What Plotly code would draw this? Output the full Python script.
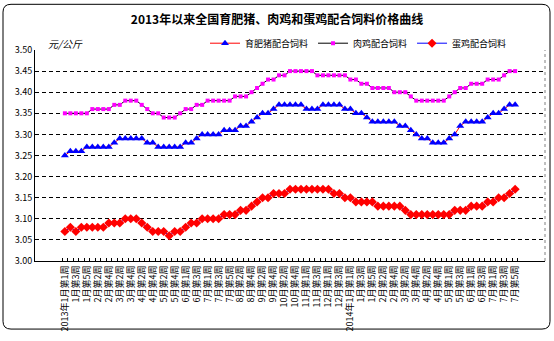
import plotly.graph_objects as go

# Weekly reporting calendar: number of reporting weeks in each month
weeks_2013 = [5, 4, 4, 4, 5, 4, 5, 4, 4, 5, 4, 4]
weeks_2014 = [5, 4, 4, 5, 4, 4, 5]

# Feed prices, yuan per kg, one value per reporting week
pig_feed = [
    3.25,
    3.26, 3.26, 3.26,
    3.27, 3.27, 3.27, 3.27, 3.27,
    3.28,
    3.29, 3.29, 3.29, 3.29, 3.29,
    3.28, 3.28,
    3.27, 3.27, 3.27, 3.27, 3.27,
    3.28, 3.28,
    3.29,
    3.30, 3.30, 3.30, 3.30,
    3.31, 3.31, 3.31,
    3.32, 3.32,
    3.33,
    3.34,
    3.35, 3.35,
    3.36,
    3.37, 3.37, 3.37, 3.37, 3.37,
    3.36, 3.36, 3.36,
    3.37, 3.37, 3.37, 3.37,
    3.36, 3.36,
    3.35, 3.35,
    3.34,
    3.33, 3.33, 3.33, 3.33, 3.33,
    3.32, 3.32,
    3.31,
    3.30,
    3.29, 3.29,
    3.28, 3.28, 3.28,
    3.29,
    3.30,
    3.32,
    3.33, 3.33, 3.33, 3.33,
    3.34,
    3.35, 3.35,
    3.36,
    3.37, 3.37,
]

broiler_feed = [
    3.35, 3.35, 3.35, 3.35, 3.35,
    3.36, 3.36, 3.36, 3.36,
    3.37, 3.37,
    3.38, 3.38, 3.38,
    3.37,
    3.36,
    3.35, 3.35,
    3.34, 3.34, 3.34,
    3.35,
    3.36, 3.36,
    3.37, 3.37,
    3.38, 3.38, 3.38, 3.38, 3.38,
    3.39, 3.39, 3.39,
    3.40,
    3.41,
    3.42,
    3.43, 3.43,
    3.44, 3.44,
    3.45, 3.45, 3.45, 3.45, 3.45,
    3.44, 3.44, 3.44, 3.44, 3.44, 3.44,
    3.43, 3.43,
    3.42, 3.42,
    3.41, 3.41, 3.41, 3.41,
    3.40, 3.40, 3.40,
    3.39,
    3.38, 3.38, 3.38, 3.38, 3.38, 3.38,
    3.39,
    3.40,
    3.41, 3.41,
    3.42, 3.42, 3.42,
    3.43, 3.43, 3.43,
    3.44,
    3.45, 3.45,
]

layer_feed = [
    3.07,
    3.08,
    3.07,
    3.08, 3.08, 3.08, 3.08, 3.08,
    3.09, 3.09, 3.09,
    3.10, 3.10, 3.10,
    3.09,
    3.08,
    3.07, 3.07, 3.07,
    3.06,
    3.07, 3.07,
    3.08,
    3.09, 3.09,
    3.10, 3.10, 3.10, 3.10,
    3.11, 3.11, 3.11,
    3.12, 3.12,
    3.13,
    3.14,
    3.15, 3.15,
    3.16, 3.16, 3.16,
    3.17, 3.17, 3.17, 3.17, 3.17, 3.17, 3.17, 3.17,
    3.16, 3.16,
    3.15, 3.15,
    3.14, 3.14, 3.14, 3.14,
    3.13, 3.13, 3.13, 3.13, 3.13,
    3.12,
    3.11, 3.11, 3.11, 3.11, 3.11, 3.11, 3.11, 3.11,
    3.12, 3.12, 3.12,
    3.13, 3.13, 3.13,
    3.14, 3.14,
    3.15, 3.15,
    3.16,
    3.17,
]

# Build week categories and their axis labels (every second week labelled)
categories = []
tick_text = []
for year, month_weeks in ((2013, weeks_2013), (2014, weeks_2014)):
    for month, n_weeks in enumerate(month_weeks, start=1):
        for week in range(1, n_weeks + 1):
            idx = len(categories)
            categories.append(f"{year}年{month}月第{week}周")
            if idx % 2:
                tick_text.append("")
            elif month == 1 and week == 1:
                tick_text.append(f"{year}年{month}月第{week}周")
            else:
                tick_text.append(f"{month}月第{week}周")

FONT = "Noto Sans CJK SC"
W, H = 554, 341
ML, MR, MT, MB = 35, 9, 50, 74
PW, PH = W - ML - MR, H - MT - MB


def px_x(x):
    return (x - ML) / PW


def px_y(y):
    return (H - MB - y) / PH


fig = go.Figure()
fig.add_trace(go.Scatter(
    x=categories, y=pig_feed, name="育肥猪配合饲料", mode="lines+markers",
    line=dict(color="#FF0000", width=1),
    marker=dict(symbol="triangle-up", size=7, color="#0000FF"),
))
fig.add_trace(go.Scatter(
    x=categories, y=broiler_feed, name="肉鸡配合饲料", mode="lines+markers",
    line=dict(color="#000000", width=1),
    marker=dict(symbol="square", size=4, color="#FF00FF"),
))
fig.add_trace(go.Scatter(
    x=categories, y=layer_feed, name="蛋鸡配合饲料", mode="lines+markers",
    line=dict(color="#0000FF", width=1),
    marker=dict(symbol="diamond", size=7, color="#FF0000"),
))

# Rounded outer frame of the chart
x0, x1, y0, y1, r = 3, 550, 3, 337, 8
frame = (
    f"M {px_x(x0 + r)},{px_y(y0)} L {px_x(x1 - r)},{px_y(y0)} "
    f"Q {px_x(x1)},{px_y(y0)} {px_x(x1)},{px_y(y0 + r)} "
    f"L {px_x(x1)},{px_y(y1 - r)} "
    f"Q {px_x(x1)},{px_y(y1)} {px_x(x1 - r)},{px_y(y1)} "
    f"L {px_x(x0 + r)},{px_y(y1)} "
    f"Q {px_x(x0)},{px_y(y1)} {px_x(x0)},{px_y(y1 - r)} "
    f"L {px_x(x0)},{px_y(y0 + r)} "
    f"Q {px_x(x0)},{px_y(y0)} {px_x(x0 + r)},{px_y(y0)} Z"
)

fig.update_layout(
    width=W, height=H,
    margin=dict(l=ML, r=MR, t=MT, b=MB),
    paper_bgcolor="white", plot_bgcolor="white",
    font=dict(family=FONT, size=9, color="black"),
    title=dict(
        text="<b>2013年以来全国育肥猪、肉鸡和蛋鸡配合饲料价格曲线</b>",
        x=0.5, xanchor="center", y=1 - 20 / H, yanchor="middle",
        font=dict(family=FONT, size=12, color="black"),
    ),
    showlegend=True,
    legend=dict(
        orientation="h", x=px_x(205), xanchor="left",
        y=px_y(43), yanchor="middle",
        font=dict(family=FONT, size=9, color="black"),
        itemwidth=30, bgcolor="rgba(0,0,0,0)",
    ),
    xaxis=dict(
        type="category",
        tickmode="array", tickvals=categories, ticktext=tick_text,
        tickangle=-90, tickson="boundaries",
        ticks="inside", ticklen=3, tickcolor="black",
        showline=True, linecolor="black", linewidth=1,
        showgrid=False, zeroline=False,
        tickfont=dict(family=FONT, size=9, color="black"),
    ),
    yaxis=dict(
        range=[3.0, 3.5], dtick=0.05, tick0=3.0, tickformat=".2f",
        showline=True, linecolor="black", linewidth=1,
        showgrid=True, gridcolor="black", gridwidth=1, griddash="4px,3px",
        zeroline=False, ticks="",
        tickfont=dict(family=FONT, size=9, color="black"),
    ),
    shapes=[
        dict(type="path", xref="paper", yref="paper", path=frame,
             line=dict(color="black", width=1), layer="above"),
        dict(type="line", xref="paper", yref="paper", x0=1, x1=1, y0=0, y1=1,
             line=dict(color="#808080", width=1, dash="dot")),
    ],
    annotations=[
        dict(text="元/公斤", xref="paper", yref="paper",
             x=px_x(46), y=px_y(43), xanchor="left", yanchor="middle",
             showarrow=False,
             font=dict(family=FONT, size=10, color="black", style="italic")),
    ],
)

fig.write_html("out.html")
